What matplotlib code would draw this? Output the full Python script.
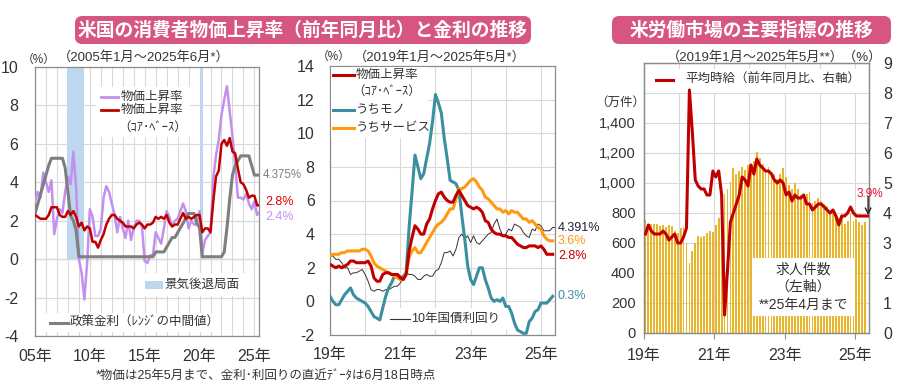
import numpy as np
import matplotlib
matplotlib.use("Agg")
import matplotlib.pyplot as plt
from matplotlib.patches import FancyBboxPatch, Rectangle
from matplotlib.lines import Line2D
from matplotlib.ticker import FuncFormatter

plt.rcParams['font.family'] = ['Liberation Sans', 'Noto Sans CJK JP']
plt.rcParams['axes.unicode_minus'] = False

# ---------------- Left panel data (quarterly: Jan/Apr/Jul/Oct, last = May 2025) ----------------
cpi_headline = [3.0, 3.5, 3.2, 4.5,  4.0, 3.5, 4.1, 1.3,  2.1, 2.6, 2.4, 3.5,  4.3, 3.9, 5.6, 3.7,
                0.0, -0.7, -2.1, -0.2,  2.6, 2.2, 1.2, 1.2,  1.6, 3.2, 3.8, 3.5,  2.9, 2.3, 1.4, 2.2,
                1.6, 1.1, 2.0, 1.0,  1.6, 2.0, 2.0, 1.7,  -0.1, -0.2, 0.2, 0.2,  1.4, 1.1, 0.8, 1.6,
                2.5, 2.2, 1.7, 2.0,  2.1, 2.5, 2.9, 2.5,  1.6, 2.0, 1.8, 1.8,  2.5, 0.3, 1.0, 1.2,
                1.4, 4.2, 5.4, 6.2,  7.5, 8.3, 9.0, 7.7,  6.4, 4.9, 3.2, 3.2,  3.1, 3.4, 2.9, 2.6,
                3.0, 2.3, 2.4]
cpi_core = [2.3, 2.2, 2.1, 2.1,  2.1, 2.3, 2.7, 2.7,  2.7, 2.3, 2.2, 2.2,  2.5, 2.3, 2.5, 2.2,
            1.7, 1.9, 1.5, 1.7,  1.6, 0.9, 0.9, 0.6,  1.0, 1.3, 1.8, 2.1,  2.3, 2.3, 2.1, 2.0,
            1.9, 1.7, 1.7, 1.7,  1.6, 1.8, 1.9, 1.8,  1.6, 1.8, 1.8, 1.9,  2.2, 2.1, 2.2, 2.1,
            2.3, 1.9, 1.7, 1.8,  1.8, 2.1, 2.4, 2.1,  2.2, 2.1, 2.2, 2.3,  2.3, 1.4, 1.6, 1.6,
            1.4, 3.0, 4.3, 4.6,  6.0, 6.2, 5.9, 6.3,  5.6, 5.5, 4.7, 4.0,  3.9, 3.6, 3.2, 3.3,
            3.3, 2.8, 2.8]
policy_rate = [2.375, 2.875, 3.375, 3.875,  4.375, 4.875, 5.25, 5.25,  5.25, 5.25, 5.25, 4.75,
               3.5, 2.25, 2.0, 1.5,
               0.125, 0.125, 0.125, 0.125,  0.125, 0.125, 0.125, 0.125,  0.125, 0.125, 0.125, 0.125,
               0.125, 0.125, 0.125, 0.125,  0.125, 0.125, 0.125, 0.125,  0.125, 0.125, 0.125, 0.125,
               0.125, 0.125, 0.125, 0.125,
               0.375, 0.375, 0.375, 0.375,  0.625, 0.875, 1.125, 1.125,  1.375, 1.625, 1.875, 2.125,
               2.375, 2.375, 2.375, 1.875,  1.625, 0.125, 0.125, 0.125,  0.125, 0.125, 0.125, 0.125,
               0.125, 0.375, 1.625, 3.125,  4.375, 4.875, 5.125, 5.375,  5.375, 5.375, 5.375, 4.875,
               4.375, 4.375, 4.375]
recession_start = [2007 + 11 / 12, 2020 + 1 / 12]
recession_end = [2009.5, 2020 + 4 / 12]

# ---------------- Middle panel data (monthly 2019-01 .. 2025-05) ----------------
core_cpi = [2.2, 2.1, 2.0, 2.1, 2.0, 2.1, 2.2, 2.4, 2.4, 2.3, 2.3, 2.3,
            2.3, 2.4, 2.1, 1.4, 1.2, 1.2, 1.6, 1.7, 1.7, 1.6, 1.6, 1.6,
            1.4, 1.3, 1.6, 3.0, 3.8, 4.5, 4.3, 4.0, 4.0, 4.6, 4.9, 5.5,
            6.0, 6.4, 6.5, 6.2, 6.0, 5.9, 5.9, 6.3, 6.6, 6.3, 6.0, 5.7,
            5.6, 5.5, 5.6, 5.5, 5.3, 4.8, 4.7, 4.3, 4.1, 4.0, 4.0, 3.9,
            3.9, 3.8, 3.8, 3.6, 3.4, 3.3, 3.2, 3.2, 3.3, 3.3, 3.3, 3.2,
            3.3, 3.1, 2.8, 2.8, 2.8]
goods = [0.3, 0.0, -0.2, -0.2, 0.1, 0.4, 0.6, 0.8, 0.4, 0.2, 0.1, 0.0,
         -0.1, -0.3, -0.6, -0.9, -1.0, -1.1, -0.4, 0.3, 0.8, 1.1, 1.5, 1.6,
         1.4, 1.5, 1.7, 4.4, 6.5, 8.7, 8.0, 7.3, 7.6, 8.5, 9.4, 10.7,
         12.3, 11.8, 11.2, 9.7, 8.5, 7.2, 7.1, 7.0, 6.6, 5.1, 3.7, 2.1,
         1.3, 1.0, 1.5, 2.0, 2.0, 1.3, 0.8, 0.2, 0.0, 0.1, 0.0, 0.2,
         -0.3, -0.3, -0.7, -1.3, -1.7, -1.8, -1.9, -1.9, -1.2, -1.0, -0.6, -0.5,
         -0.1, -0.1, -0.1, 0.1, 0.3]
services = [2.7, 2.8, 2.8, 2.8, 2.9, 2.9, 3.0, 3.0, 3.0, 3.0, 3.0, 3.1,
            3.1, 3.0, 2.7, 2.3, 2.1, 2.0, 1.9, 1.8, 1.7, 1.6, 1.5, 1.4,
            1.3, 1.3, 1.7, 2.6, 3.0, 3.2, 2.9, 2.9, 3.2, 3.5, 3.8, 4.1,
            4.4, 4.6, 4.7, 4.9, 5.2, 5.5, 5.5, 6.1, 6.7, 6.7, 6.8, 7.0,
            7.2, 7.3, 7.1, 6.8, 6.6, 6.2, 6.1, 5.9, 5.7, 5.5, 5.5, 5.3,
            5.4, 5.2, 5.4, 5.3, 5.3, 5.1, 4.9, 4.9, 4.7, 4.8, 4.6, 4.4,
            4.3, 3.9, 3.7, 3.6, 3.6]
yield10 = [2.7, 2.7, 2.5, 2.5, 2.3, 2.0, 2.0, 1.6, 1.7, 1.7, 1.8, 1.9,
           1.6, 1.2, 0.7, 0.6, 0.7, 0.7, 0.6, 0.7, 0.7, 0.8, 0.9, 0.9,
           1.1, 1.4, 1.7, 1.6, 1.6, 1.5, 1.3, 1.3, 1.5, 1.6, 1.5, 1.5,
           1.8, 1.9, 2.3, 2.9, 2.9, 3.0, 2.7, 3.1, 3.8, 4.0, 3.7, 3.9,
           3.5, 3.9, 3.5, 3.4, 3.6, 3.8, 4.0, 4.1, 4.6, 4.9, 4.3, 3.9,
           4.0, 4.3, 4.2, 4.6, 4.5, 4.4, 4.1, 3.9, 3.8, 4.3, 4.2, 4.6,
           4.5, 4.2, 4.2, 4.2, 4.4, 4.391]

# ---------------- Right panel data (monthly from 2019-01) ----------------
job_openings = [755, 725, 730, 730, 725, 715, 720, 705, 720, 715, 680, 670,
                700, 710, 600, 465, 550, 600, 650, 640, 650, 670, 680, 675,
                720, 770, 820, 930, 960, 1010, 1100, 1060, 1080, 1110, 1090, 1120,
                1130, 1150, 1210, 1170, 1130, 1090, 1110, 1040, 1060, 1030, 1060, 1100,
                1040, 990, 960, 1000, 960, 920, 890, 930, 940, 870, 880, 900,
                880, 860, 850, 800, 820, 790, 770, 780, 730, 750, 800, 750,
                760, 740, 720, 740]
hourly_wage = [3.3, 3.6, 3.4, 3.3, 3.3, 3.3, 3.4, 3.3, 3.1, 3.2, 3.3, 3.0,
               3.0, 3.2, 3.5, 8.1, 6.7, 5.1, 4.9, 4.8, 4.8, 4.6, 4.6, 5.4,
               5.2, 5.4, 4.6, 0.6, 2.1, 3.7, 4.0, 4.3, 4.6, 5.2, 5.1, 4.9,
               5.6, 5.3, 5.8, 5.6, 5.5, 5.4, 5.4, 5.3, 5.1, 5.0, 5.1, 5.0,
               4.6, 4.7, 4.4, 4.6, 4.5, 4.5, 4.6, 4.3, 4.3, 4.1, 4.2, 4.3,
               4.3, 4.2, 4.1, 4.0, 4.1, 3.9, 3.6, 3.9, 3.9, 4.0, 4.2, 4.0,
               3.9, 3.9, 3.9, 3.9, 3.9]

left_xlabels = ['05年', '10年', '15年', '20年', '25年']
mid_xlabels = ['19年', '21年', '23年', '25年']

# ---------------- styling ----------------
W, H = 900, 390
GRID = '#d9d9d9'
SPINE = '#8c8c8c'
TXT = '#333333'
PURPLE = '#c490f0'
RED = '#c00000'
GREY = '#7f7f7f'
TEAL = '#3a8fa0'
ORANGE = '#ff9a10'
GOLD = '#e9b52a'

fig = plt.figure(figsize=(W / 100, H / 100), dpi=100)
fig.patch.set_facecolor('white')


def rect(x0, y0, x1, y1):
    return [x0 / W, 1 - y1 / H, (x1 - x0) / W, (y1 - y0) / H]


def ftext(x, y, s, **kw):
    kw.setdefault('color', TXT)
    return fig.text(x / W, 1 - y / H, s, **kw)


def banner(x0, x1, text):
    box = FancyBboxPatch((x0 / W, 1 - 44 / H), (x1 - x0) / W, 28 / H,
                         boxstyle='round,pad=0,rounding_size=0.008',
                         mutation_aspect=W / H,
                         transform=fig.transFigure, facecolor='#d6567f',
                         edgecolor='none')
    fig.patches.append(box)
    fig.text((x0 + x1) / 2 / W, 1 - 30.5 / H, text, color='white', fontsize=13.5,
             fontweight='bold', ha='center', va='center')


def style_box(ax):
    for s in ax.spines.values():
        s.set_color(SPINE)
        s.set_linewidth(0.9)


banner(75, 531, '米国の消費者物価上昇率（前年同月比）と金利の推移')
banner(612, 891, '米労働市場の主要指標の推移')

# ================= Left panel =================
ax1 = fig.add_axes(rect(35, 67, 259, 336))
left_x = np.append(2005 + np.arange(len(cpi_headline) - 1) * 0.25, 2025 + 4 / 12)
policy_x = np.append(2005 + np.arange(len(policy_rate) - 1) * 0.25, 2025 + 5 / 12)
ax1.set_xlim(2005, 2025.42)
ax1.set_ylim(-4, 10)
ax1.set_yticks(range(-4, 11, 2))
ax1.set_xticks([2005, 2010, 2015, 2020, 2025], left_xlabels)
ax1.set_xticks(np.arange(2005, 2026), minor=True)
ax1.grid(True, which='both', axis='x', color=GRID, lw=0.8)
ax1.grid(True, which='major', axis='y', color=GRID, lw=0.8)
ax1.set_axisbelow(True)
ax1.tick_params(which='both', length=0, labelsize=11.5, colors=TXT)
ax1.tick_params(axis='y', pad=12)
ax1.tick_params(axis='x', pad=9)
style_box(ax1)
for s, e in zip(recession_start, recession_end):
    ax1.axvspan(s, e, ymin=4 / 14, ymax=1, color='#bdd7ee', lw=0, zorder=1)
sec = ax1.secondary_xaxis(4 / 14)
sec.set_xticks([2005, 2010, 2015, 2020, 2025])
sec.tick_params(direction='out', length=4, color=GREY, labelbottom=False, labeltop=False)
for s in sec.spines.values():
    s.set_color(GREY)
ax1.plot(left_x, cpi_headline, color=PURPLE, lw=1.8, zorder=3)
ax1.plot(policy_x, policy_rate, color=GREY, lw=2.2, zorder=3.5)
ax1.plot(left_x, cpi_core, color=RED, lw=1.8, zorder=4)
ytr = ax1.get_yaxis_transform()
ax1.text(1.018, policy_rate[-1], f'{policy_rate[-1]:.3f}%', transform=ytr, color=GREY,
         fontsize=8.3, va='center', ha='left')
ax1.text(1.027, cpi_core[-1] + 0.17, f'{cpi_core[-1]:.1f}%', transform=ytr, color='#e00000',
         fontsize=9, va='center', ha='left')
ax1.text(1.027, cpi_headline[-1] - 0.2, f'{cpi_headline[-1]:.1f}%', transform=ytr, color=PURPLE,
         fontsize=9, va='center', ha='left')
# legend
ax1.add_patch(Rectangle((0.272, 0.74), 0.42, 0.185, transform=ax1.transAxes,
                        facecolor='white', edgecolor='none', zorder=2.5))
ax1.add_line(Line2D([0.295, 0.37], [0.888, 0.888], transform=ax1.transAxes, color=PURPLE, lw=2, zorder=3))
ax1.text(0.384, 0.888, '物価上昇率', transform=ax1.transAxes, fontsize=9, va='center', color=TXT, zorder=3)
ax1.add_line(Line2D([0.295, 0.37], [0.84, 0.84], transform=ax1.transAxes, color=RED, lw=2, zorder=3))
ax1.text(0.384, 0.84, '物価上昇率', transform=ax1.transAxes, fontsize=9, va='center', color=TXT, zorder=3)
ax1.text(0.37, 0.775, '（ｺｱ･ﾍﾞｰｽ）', transform=ax1.transAxes, fontsize=9, va='center', color=TXT, zorder=3)
ax1.add_patch(Rectangle((0.478, 0.15), 0.5, 0.085, transform=ax1.transAxes,
                        facecolor='white', edgecolor='none', zorder=2.5))
ax1.add_patch(Rectangle((0.491, 0.175), 0.08, 0.03, transform=ax1.transAxes,
                        facecolor='#bdd7ee', edgecolor='none', zorder=3))
ax1.text(0.58, 0.19, '景気後退局面', transform=ax1.transAxes, fontsize=9, va='center', color=TXT, zorder=3)
ax1.add_patch(Rectangle((0.05, 0.015), 0.76, 0.07, transform=ax1.transAxes,
                        facecolor='white', edgecolor='none', zorder=2.5))
ax1.add_line(Line2D([0.067, 0.147], [0.048, 0.048], transform=ax1.transAxes, color=GREY, lw=2.2, zorder=3))
ax1.text(0.156, 0.048, '政策金利（ﾚﾝｼﾞの中間値）', transform=ax1.transAxes, fontsize=9,
         va='center', color=TXT, zorder=3)
ftext(22, 60, '（%）', fontsize=8.5, va='center', ha='left')
ftext(58, 57, '（2005年1月～2025年6月*）', fontsize=9.5, va='center', ha='left')

# ================= Middle panel =================
ax2 = fig.add_axes(rect(330, 66, 555, 335))
mid_x = 2019 + np.arange(len(core_cpi)) / 12
yld_x = np.append(2019 + np.arange(len(yield10) - 1) / 12, 2025.4)
ax2.set_xlim(2019, 2025.4)
ax2.set_ylim(-2, 14)
ax2.set_yticks(range(-2, 15, 2))
ax2.set_xticks([2019, 2021, 2023, 2025], mid_xlabels)
ax2.set_xticks(np.arange(2019, 2026), minor=True)
ax2.grid(True, which='both', axis='x', color=GRID, lw=0.8)
ax2.grid(True, which='major', axis='y', color=GRID, lw=0.8)
ax2.set_axisbelow(True)
ax2.tick_params(which='both', length=0, labelsize=11.5, colors=TXT)
ax2.tick_params(axis='y', pad=11)
ax2.tick_params(axis='x', pad=9)
style_box(ax2)
ax2.plot(yld_x, yield10, color='#333333', lw=0.7, zorder=3)
ax2.plot(mid_x, goods, color=TEAL, lw=2.2, zorder=4)
ax2.plot(mid_x, services, color=ORANGE, lw=2.2, zorder=4)
ax2.plot(mid_x, core_cpi, color=RED, lw=2.2, zorder=5)
ytr2 = ax2.get_yaxis_transform()
ax2.text(1.013, yield10[-1], f'{yield10[-1]:.3f}%', transform=ytr2, color='#1f1f3a', fontsize=9, va='center')
ax2.text(1.013, services[-1], f'{services[-1]:.1f}%', transform=ytr2, color=ORANGE, fontsize=9, va='center')
ax2.text(1.013, core_cpi[-1] - 0.1, f'{core_cpi[-1]:.1f}%', transform=ytr2, color=RED, fontsize=9, va='center')
ax2.text(1.013, goods[-1], f'{goods[-1]:.1f}%', transform=ytr2, color=TEAL, fontsize=9, va='center')
ax2.add_patch(Rectangle((0.004, 0.732), 0.432, 0.264, transform=ax2.transAxes,
                        facecolor='white', edgecolor='none', zorder=6))
for yy, col, lab in [(0.967, RED, '物価上昇率'), (0.836, TEAL, 'うちモノ'), (0.770, ORANGE, 'うちサービス')]:
    ax2.add_line(Line2D([0.013, 0.105], [yy, yy], transform=ax2.transAxes, color=col, lw=2.2, zorder=7))
    ax2.text(0.113, yy, lab, transform=ax2.transAxes, fontsize=9, va='center', color=TXT, zorder=7)
ax2.text(0.1, 0.903, '（ｺｱ･ﾍﾞｰｽ）', transform=ax2.transAxes, fontsize=9, va='center', color=TXT, zorder=7)
ax2.add_patch(Rectangle((0.255, 0.02), 0.53, 0.08, transform=ax2.transAxes,
                        facecolor='white', edgecolor='none', zorder=6))
ax2.add_line(Line2D([0.267, 0.355], [0.06, 0.06], transform=ax2.transAxes, color='#333333', lw=0.8, zorder=7))
ax2.text(0.362, 0.06, '10年国債利回り', transform=ax2.transAxes, fontsize=9, va='center', color=TXT, zorder=7)
ftext(317, 57, '（%）', fontsize=8.5, va='center', ha='left')
ftext(354, 57, '（2019年1月～2025年5月*）', fontsize=9.5, va='center', ha='left')

# ================= Right panel =================
ax3 = fig.add_axes(rect(644, 63, 869, 333))
bar_x = 2019 + (np.arange(len(job_openings)) + 0.5) / 12
wage_x = 2019 + (np.arange(len(hourly_wage)) + 0.5) / 12
ax3.set_xlim(2019, 2025.4)
ax3.set_ylim(0, 1800)
ax3.set_yticks(range(0, 1801, 200))
ax3.yaxis.set_major_formatter(FuncFormatter(lambda v, p: f'{int(v):,}' if v <= 1400 else ''))
ax3.set_xticks([2019, 2021, 2023, 2025], mid_xlabels)
ax3.set_xticks(np.arange(2019, 2026), minor=True)
ax3.grid(True, which='both', axis='x', color=GRID, lw=0.8)
ax3.grid(True, which='major', axis='y', color=GRID, lw=0.8)
ax3.set_axisbelow(True)
ax3.tick_params(axis='y', length=0, labelsize=10.5, colors=TXT, pad=6)
ax3.tick_params(axis='x', which='major', length=4, color=SPINE, labelsize=11.5, labelcolor=TXT, pad=7)
ax3.tick_params(axis='x', which='minor', length=0)
style_box(ax3)
ax3.bar(bar_x, job_openings, width=0.62 / 12, color=GOLD, lw=0, zorder=2)
ax3.add_patch(Rectangle((0.027, 0.889), 0.96, 0.089, transform=ax3.transAxes,
                        facecolor='white', edgecolor='none', zorder=3))
ax3.add_line(Line2D([0.053, 0.13], [0.937, 0.937], transform=ax3.transAxes, color=RED, lw=2.2, zorder=4))
ax3.text(0.182, 0.937, '平均時給（前年同月比、右軸）', transform=ax3.transAxes, fontsize=9,
         va='center', color=TXT, zorder=4)
ax3.add_patch(Rectangle((0.48, 0.063), 0.458, 0.215, transform=ax3.transAxes,
                        facecolor='white', edgecolor='none', zorder=3))
ax3.text(0.709, 0.17, '求人件数\n（左軸）\n**25年4月まで', transform=ax3.transAxes, fontsize=10,
         ha='center', va='center', color=TXT, linespacing=1.35, zorder=4)
ax3r = ax3.twinx()
ax3r.set_ylim(0, 9)
ax3r.set_yticks(range(0, 10))
ax3r.tick_params(axis='y', length=0, labelsize=11.5, colors=TXT, pad=10)
style_box(ax3r)
ax3r.plot(wage_x, hourly_wage, color=RED, lw=2.2, zorder=3)
ax3r.annotate('', xy=(wage_x[-1], hourly_wage[-1] + 0.03), xytext=(wage_x[-1], hourly_wage[-1] + 0.65),
              arrowprops=dict(arrowstyle='->', color='#222222', lw=1.0, shrinkA=0, shrinkB=0))
ax3r.text(wage_x[-1] + 0.06, hourly_wage[-1] + 0.72, f'{hourly_wage[-1]:.1f}%', color='#e0103a',
          fontsize=8.5, ha='center', va='center')
ftext(620, 103, '（万件）', fontsize=9, va='center', ha='center')
ftext(882, 57, '（2019年1月～2025年5月**）（%）', fontsize=9.5, va='center', ha='right')

# footnote
ftext(96, 376, '*物価は25年5月まで、金利･利回りの直近ﾃﾞｰﾀは6月18日時点', fontsize=9, va='center', ha='left')

fig.savefig('out.png', dpi=100, facecolor='white')
